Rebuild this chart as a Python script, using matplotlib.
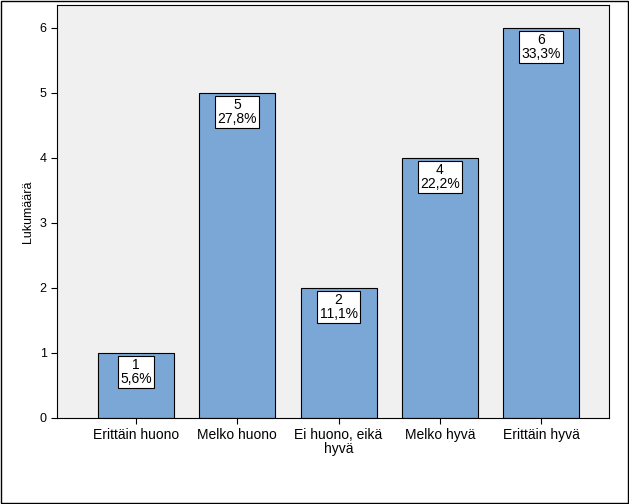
import matplotlib
matplotlib.use("Agg")
import matplotlib.pyplot as plt

categories = ["Erittäin huono", "Melko huono", "Ei huono, eikä\nhyvä", "Melko hyvä", "Erittäin hyvä"]
counts = [1, 5, 2, 4, 6]
percents = ["5,6%", "27,8%", "11,1%", "22,2%", "33,3%"]

plt.rcParams['font.family'] = ['Liberation Sans', 'DejaVu Sans']

fig = plt.figure(figsize=(6.29, 5.04), dpi=100)
fig.patch.set_facecolor('white')
ax = fig.add_axes([57/629, 86/504, 552/629, 413/504])
ax.set_facecolor('#f0f0f0')

x = list(range(len(categories)))
ax.bar(x, counts, width=0.75, color='#7ba7d6', edgecolor='black', linewidth=0.8, zorder=2)
for xi, c, p in zip(x, counts, percents):
    ax.text(xi, c - 0.08, f"{c}\n{p}", ha='center', va='top', fontsize=10, linespacing=1.0,
            bbox=dict(facecolor='white', edgecolor='black', linewidth=0.8, boxstyle='square,pad=0.15'), zorder=3)

ax.set_xlim(-0.78, 4.67)
ax.set_ylim(0, 6.35)
ax.set_yticks(range(7))
ax.set_xticks(x)
ax.set_xticklabels(categories, fontsize=10, linespacing=1.0)
ax.tick_params(axis='y', labelsize=9, length=4)
ax.tick_params(axis='x', length=4)
ax.set_ylabel("Lukumäärä", fontsize=9)
for s in ax.spines.values():
    s.set_linewidth(0.8)

fig.add_artist(plt.Rectangle((0.002, 0.002), 0.996, 0.996, transform=fig.transFigure,
                             fill=False, edgecolor='black', linewidth=1))
fig.savefig("out.png", dpi=100)
